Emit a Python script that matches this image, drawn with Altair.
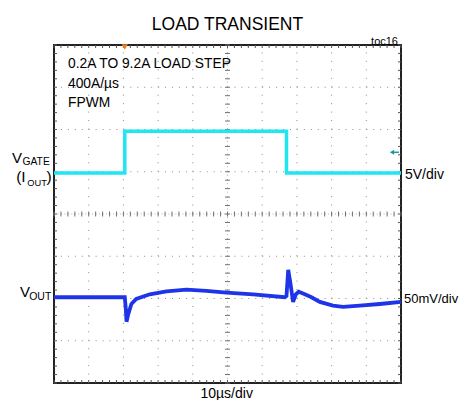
import altair as alt
import pandas as pd
import numpy as np

# ---------------- data (screen divisions: 10 across, 8 high) ----------------
gate_t = [0.0, 2.04, 2.04, 6.70, 6.70, 10.0]
gate_v = [4.97, 4.97, 5.96, 5.96, 4.97, 4.97]

vout_t = [0.0, 2.04, 2.07, 2.09, 2.14, 2.23, 2.37, 2.76, 3.24, 3.82, 4.39, 4.97,
          5.74, 6.65, 6.70, 6.75, 6.81, 6.89, 6.97, 7.05, 7.23, 7.42, 7.66, 8.04,
          8.33, 8.81, 9.39, 10.0]
vout_v = [2.03, 2.03, 1.75, 1.45, 1.63, 1.87, 1.99, 2.10, 2.17, 2.21, 2.18, 2.14,
          2.10, 2.03, 2.06, 2.68, 2.38, 1.92, 2.10, 2.16, 2.10, 2.03, 1.92, 1.83,
          1.80, 1.83, 1.87, 1.92]

trigger_t = [2.04]
arrow_t = [9.74, 9.94]
arrow_v = [5.46, 5.46]

title_text = "LOAD TRANSIENT"
tag_text = "toc16"
notes = ["0.2A TO 9.2A LOAD STEP", "400A/µs", "FPWM"]
ch1_label = ["V", "GATE", "(I", "OUT", ")"]
ch2_label = ["V", "OUT"]
ch1_scale = "5V/div"
ch2_scale = "50mV/div"
time_scale = "10µs/div"

FONT = "Liberation Sans"
CYAN = "#1FE6F0"
BLUE = "#1E34E8"

xs = alt.Scale(domain=[0, 10], nice=False, zero=False)
ys = alt.Scale(domain=[0, 8], nice=False, zero=False)

def X(f):
    return alt.X(f, scale=xs, axis=None)

def Y(f):
    return alt.Y(f, scale=ys, axis=None)

mx = np.round(np.arange(0, 10.001, 0.2), 2)
my = np.round(np.arange(0, 8.001, 0.2), 2)
layers = []

def vrules(pos, a, b, **kw):
    df = pd.DataFrame({"p": pos, "a": [a] * len(pos), "b": [b] * len(pos)})
    return alt.Chart(df).mark_rule(**kw).encode(x=X("p:Q"), y=Y("a:Q"), y2="b:Q")

def hrules(pos, a, b, **kw):
    df = pd.DataFrame({"p": pos, "a": [a] * len(pos), "b": [b] * len(pos)})
    return alt.Chart(df).mark_rule(**kw).encode(y=Y("p:Q"), x=X("a:Q"), x2="b:Q")

# grid lines (dotted)
layers.append(vrules([1, 2, 3, 4, 6, 7, 8, 9], 0, 8, color="#8c8c8c", strokeWidth=1, strokeDash=[1, 7.45]))
layers.append(hrules([1, 2, 3, 5, 6, 7], 0, 10, color="#8c8c8c", strokeWidth=1, strokeDash=[1, 5.94]))
# center lines
layers.append(vrules([5], 0, 8, color="#b0b0b0", strokeWidth=1, strokeDash=[1, 3.23]))
layers.append(hrules([4], 0, 10, color="#b0b0b0", strokeWidth=1, strokeDash=[1, 2.47]))
# center ticks
layers.append(vrules(list(mx), 4, 4, color="#707070", strokeWidth=1, yOffset=-2.5, y2Offset=2.5))
layers.append(hrules(list(my), 5, 5, color="#707070", strokeWidth=1, xOffset=-2.5, x2Offset=2.5))
# edge ticks
layers.append(hrules(list(my), 0, 0, color="#555555", strokeWidth=1, x2Offset=3))
layers.append(hrules(list(my), 10, 10, color="#555555", strokeWidth=1, x2Offset=-3))
layers.append(vrules(list(mx), 8, 8, color="#555555", strokeWidth=1, y2Offset=3))
layers.append(vrules(list(mx), 0, 0, color="#555555", strokeWidth=1, y2Offset=-3))

# traces
gdf = pd.DataFrame({"t": gate_t, "v": gate_v, "i": range(len(gate_t))})
vdf = pd.DataFrame({"t": vout_t, "v": vout_v, "i": range(len(vout_t))})
layers.append(alt.Chart(gdf).mark_line(color=CYAN, strokeWidth=3.5).encode(
    x=X("t:Q"), y=Y("v:Q"), order="i:Q"))
layers.append(alt.Chart(vdf).mark_line(color=BLUE, strokeWidth=3.8).encode(
    x=X("t:Q"), y=Y("v:Q"), order="i:Q"))

# trigger marker and level arrow
tdf = pd.DataFrame({"t": trigger_t, "v": [8]})
layers.append(alt.Chart(tdf).mark_point(shape="triangle-down", filled=True, color="#F07F1E", size=40,
                                        opacity=1, yOffset=2).encode(x=X("t:Q"), y=Y("v:Q")))
adf = pd.DataFrame({"t": arrow_t, "v": arrow_v})
layers.append(alt.Chart(adf).mark_line(color="#1A9A9A", strokeWidth=1.5).encode(x=X("t:Q"), y=Y("v:Q")))
layers.append(alt.Chart(adf.iloc[[0]]).mark_point(shape="triangle-left", filled=True, color="#1A9A9A",
                                                 size=25, opacity=1).encode(x=X("t:Q"), y=Y("v:Q")))

# text
def label(text, x, y, size, align="left", font=FONT):
    return alt.Chart(pd.DataFrame({"s": [text]})).mark_text(
        align=align, baseline="alphabetic", fontSize=size, font=font, color="black").encode(
        text="s:N", x=alt.value(x), y=alt.value(y))

# plot origin is at page (54, 45)
layers.append(label(title_text, 173.5, -15, 17.5, align="center"))
layers.append(label(tag_text, 344, -0.5, 11, align="right"))
for k, n in enumerate(notes):
    layers.append(label(n, 14, 23.3 + 19.2 * k, 13.8))
layers.append(label(ch1_label[0], -42, 118.3, 15))
layers.append(label(ch1_label[1], -31.5, 119.5, 10.3))
layers.append(label(ch1_label[2], -37.8, 137, 15.5))
layers.append(label(ch1_label[3], -26.8, 140.5, 9.3))
layers.append(label(ch1_label[4], -7.4, 137, 15.5))
layers.append(label(ch2_label[0], -34, 252, 15))
layers.append(label(ch2_label[1], -24.8, 254.5, 10.5))
layers.append(label(ch1_scale, 351, 133.5, 14))
layers.append(label(ch2_scale, 350, 258, 13))
layers.append(label(time_scale, 172.7, 353, 14, align="center"))

chart = alt.layer(*layers).properties(
    width=347, height=338,
    padding={"left": 46, "top": 37, "right": 58, "bottom": 17},
    autosize=alt.AutoSizeParams(type="none"),
    background="white",
).configure_view(stroke="#222222", strokeWidth=2)

chart.save("out.html", embed_options={"renderer": "svg", "actions": False})
